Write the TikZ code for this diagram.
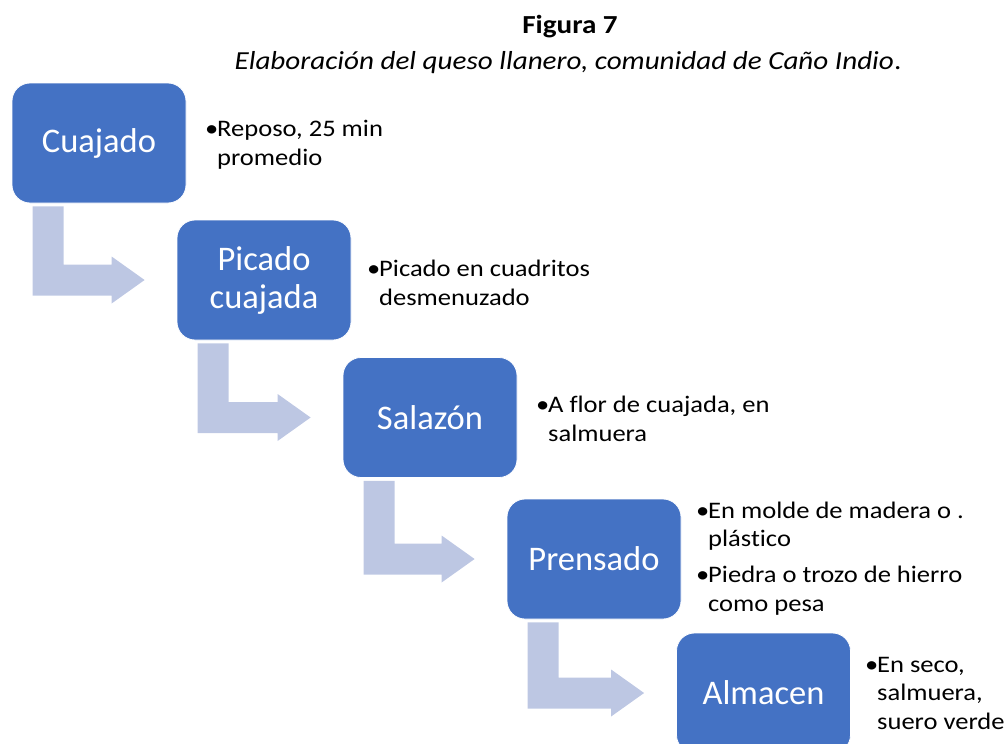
\documentclass[tikz,border=0pt]{standalone}
\usepackage{fontspec}
\setmainfont{Carlito}[Ligatures=NoCommon]
\newfontfamily\widefont{Carlito}[FakeStretch=1.12, Ligatures=NoCommon]
\usetikzlibrary{calc}
\definecolor{boxblue}{HTML}{4472C4}
\definecolor{arrowfill}{HTML}{BDC7E3}
\tikzset{
  stepbox/.style={fill=boxblue, draw=white, line width=0.8pt, rounded corners=18pt,
    minimum width=174pt, minimum height=120pt, text=white, align=center,
    font=\fontsize{34.5}{38}\selectfont, inner sep=0pt},
  sidetext/.style={anchor=base west, align=left, inner sep=0pt,
    font=\widefont\fontsize{23.7}{28.5}\selectfont},
  titletext/.style={anchor=base, inner sep=0pt},
}
\newcommand\bul{\makebox[12pt][l]{\textbullet}}
\newcommand\ind{\hspace*{12pt}}
\newcommand\bendarrow[2]{%
  \fill[arrowfill] let \p1=($(#1.south west)+(21,-3)$), \p2=($(#2.west)+(-32,0)$) in
  (\x1,\y1) -- (\x1+31pt,\y1) -- (\x1+31pt,\y2+15.5pt) -- (\x2-33pt,\y2+15.5pt)
  -- (\x2-33pt,\y2+23.5pt) -- (\x2,\y2) -- (\x2-33pt,\y2-23.5pt)
  -- (\x2-33pt,\y2-15.5pt) -- (\x1,\y2-15.5pt) -- cycle;}
\begin{document}
\begin{tikzpicture}[x=1pt,y=1pt]
\useasboundingbox (0,0) rectangle (1005,-744);
% titles
\node[titletext, font=\widefont\fontsize{26}{30}\selectfont\bfseries] (fig) at (570,-34) {Figura 7};
\node[titletext, font=\widefont\fontsize{26}{30}\selectfont] (cap) at (568,-69) {\textit{Elaboración del queso llanero, comunidad de Caño Indio}.};
% boxes
\node[stepbox] (b1) at (99,-143) {Cuajado};
\node[stepbox] (b2) at (264,-280) {Picado\\cuajada};
\node[stepbox] (b3) at (430,-417.5) {Salazón};
\node[stepbox] (b4) at (594,-559) {Prensado};
\node[stepbox] (b5) at (763.5,-693) {Almacen};
% arrows
\bendarrow{b1}{b2}
\bendarrow{b2}{b3}
\bendarrow{b3}{b4}
\bendarrow{b4}{b5}
% side texts (anchored at the baseline of their last line)
\node[sidetext] (t1) at (205,-165) {\bul Reposo, 25 min\\\ind promedio};
\node[sidetext] (t2) at (367,-305) {\bul Picado en cuadritos\\\ind desmenuzado};
\node[sidetext] (t3) at (536,-441) {\bul A flor de cuajada, en\\\ind salmuera};
\node[sidetext] (t4) at (696,-611) {\bul En molde de madera o .\\\ind plástico\\[7.5pt]\bul Piedra o trozo de hierro\\\ind como pesa};
\node[sidetext] (t5) at (865,-729) {\bul En seco,\\\ind salmuera,\\\ind suero verde};
\end{tikzpicture}
\end{document}
